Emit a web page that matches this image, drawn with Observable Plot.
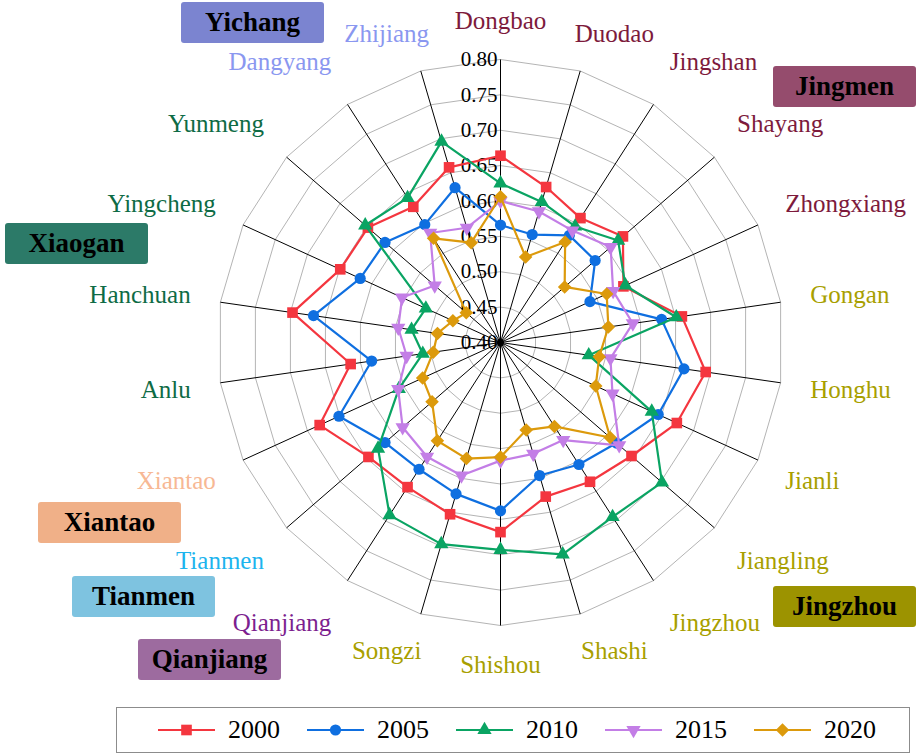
<!DOCTYPE html>
<html><head><meta charset="utf-8">
<script src="https://cdn.jsdelivr.net/npm/d3@7"></script>
<script src="https://cdn.jsdelivr.net/npm/@observablehq/plot@0.6"></script>
<style>
body{margin:0;background:#fff;}
#wrap{position:relative;width:920px;height:755px;font-family:"Liberation Serif","Times New Roman",serif;overflow:hidden;}
#chart{position:absolute;left:0;top:0;}
.grp{position:absolute;width:143px;height:41px;border-radius:3px;display:flex;align-items:center;justify-content:center;font-weight:bold;font-size:27px;color:#000;box-sizing:border-box;}
#legend{position:absolute;left:116px;top:707px;width:794px;height:46px;border:1.5px solid #8c8c8c;display:flex;align-items:center;justify-content:center;box-sizing:border-box;gap:27px;padding-left:8px;}
.item{display:flex;align-items:center;gap:13px;font-size:26px;line-height:1;}
.item svg{display:block;}
</style></head><body><div id="wrap"><div id="chart"></div></div>
<script>
// ---------------- data ----------------
const cities = ["Dongbao","Duodao","Jingshan","Shayang","Zhongxiang","Gongan","Honghu","Jianli","Jiangling","Jingzhou","Shashi","Shishou","Songzi","Qianjiang","Tianmen","Xiantao","Anlu","Hanchuan","Yingcheng","Yunmeng","Dangyang","Zhijiang"];
const cityGroup = ["Jingmen","Jingmen","Jingmen","Jingmen","Jingmen","Jingzhou","Jingzhou","Jingzhou","Jingzhou","Jingzhou","Jingzhou","Jingzhou","Jingzhou","Qianjiang","Tianmen","Xiantao","Xiaogan","Xiaogan","Xiaogan","Xiaogan","Yichang","Yichang"];
const years = ["2000","2005","2010","2015","2020"];
const v2000 = [0.664,0.629,0.609,0.629,0.591,0.659,0.693,0.674,0.645,0.634,0.627,0.668,0.653,0.643,0.647,0.681,0.614,0.697,0.649,0.648,0.628,0.658];
const v2005 = [0.566,0.559,0.580,0.577,0.539,0.630,0.662,0.645,0.617,0.605,0.596,0.638,0.623,0.613,0.616,0.651,0.584,0.667,0.618,0.616,0.598,0.628];
const v2010 = [0.625,0.607,0.595,0.620,0.594,0.651,0.526,0.635,0.702,0.693,0.712,0.693,0.697,0.690,0.629,0.558,0.511,0.527,0.516,0.653,0.643,0.696];
const v2015 = [0.600,0.593,0.588,0.606,0.575,0.589,0.557,0.574,0.622,0.564,0.564,0.567,0.596,0.592,0.583,0.559,0.534,0.546,0.553,0.523,0.584,0.569];
const v2020 = [0.606,0.526,0.569,0.520,0.565,0.554,0.541,0.548,0.605,0.541,0.529,0.562,0.571,0.565,0.528,0.521,0.496,0.490,0.474,0.464,0.575,0.547];
const tickValues = [0.40,0.45,0.50,0.55,0.60,0.65,0.70,0.75,0.80];
const groups = ["Yichang","Jingmen","Xiaogan","Xiantao","Tianmen","Qianjiang","Jingzhou"];

// ---------------- styles / layout ----------------
const seriesValues = [v2000,v2005,v2010,v2015,v2020];
const seriesColor = ["#f4363f","#0f6fe0","#0aa463","#c37ee6","#dc9a0c"];
const seriesSymbol = ["square","circle","triangle","triangle","square"];
const seriesRotate = [0,0,0,180,45];
const seriesR = [6.0,5.6,5.3,5.3,5.4];
const labelColor = {Jingmen:"#7d1a3c",Jingzhou:"#a89f00",Qianjiang:"#7d1f8f",Tianmen:"#1db4ee",Xiantao:"#f7b894",Xiaogan:"#0e6b45",Yichang:"#8a97f0"};
const boxFill = {Yichang:"#7b84d0",Jingmen:"#954c6d",Xiaogan:"#2c7a68",Xiantao:"#f0b088",Tianmen:"#7ec3e0",Qianjiang:"#9d6b9f",Jingzhou:"#9c9300"};
const boxPos = {Yichang:[181,2],Jingmen:[773,66],Xiaogan:[5,223],Xiantao:[38,502],Tianmen:[72,576],Qianjiang:[138,639],Jingzhou:[773,586]};

const PX = 707.5;           // pixels per unit of value
const cx = 500, cy = 342, W = 920, H = 700;
const base = 0.40;
const n = cities.length;
const ang = i => 2*Math.PI*i/n;

const series = [];
years.forEach((yr,k) => seriesValues[k].forEach((v,i) => series.push({year:yr, k, city:cities[i], i, v,
  x:(v-base)*Math.sin(ang(i)), y:(v-base)*Math.cos(ang(i))})));

const rings = [];
tickValues.slice(1).forEach(t => cities.forEach((c,i) => rings.push({t, x:(t-base)*Math.sin(ang(i)), y:(t-base)*Math.cos(ang(i))})));
const rmax = tickValues[tickValues.length-1] - base;
const spokes = cities.map((c,i) => ({x2:rmax*Math.sin(ang(i)), y2:rmax*Math.cos(ang(i))}));

// label positions (ellipse rule in value units)
const Rx = 313/PX, Ry = 333/PX, RyMid = 322/PX, Rmid = 404/PX;
const labels = cities.map((c,i) => {
  const s = Math.sin(ang(i)), co = Math.cos(ang(i));
  const anchor = Math.abs(s) < 0.3 ? "middle" : (s > 0 ? "start" : "end");
  const x = (anchor === "middle" ? Rmid*s : Rx*s);
  const y = (anchor === "middle" ? RyMid : Ry)*co;
  return {c, x, y, anchor, color: labelColor[cityGroup[i]]};
});

const marks = [
  Plot.line(rings, {x:"x", y:"y", z:"t", curve:"linear-closed", stroke:"#b4b4b4", strokeWidth:1}),
  Plot.link(spokes, {x1:() => 0, y1:() => 0, x2:"x2", y2:"y2", stroke:"#000", strokeWidth:1}),
  Plot.text(tickValues, {x:() => 0, y:d => d-base, text:d => d.toFixed(2), textAnchor:"end", dx:-3, fontSize:21, fill:"#000"}),
  Plot.dot([0], {x:() => 0, y:() => 0, r:3.5, fill:"#000"})
];
years.forEach((yr,k) => {
  const d = series.filter(s => s.k === k);
  marks.push(Plot.line(d, {x:"x", y:"y", curve:"linear-closed", stroke:seriesColor[k], strokeWidth:2.2}));
  marks.push(Plot.dot(d, {x:"x", y:"y", symbol:seriesSymbol[k], rotate:seriesRotate[k], r:seriesR[k], fill:seriesColor[k], stroke:"none"}));
});
["start","end","middle"].forEach(a => {
  marks.push(Plot.text(labels.filter(l => l.anchor === a), {x:"x", y:"y", text:"c", fill:"color", textAnchor:a, fontSize:25}));
});

const plot = Plot.plot({
  width: W, height: H, margin: 0,
  x: {domain: [-cx/PX, (W-cx)/PX], axis: null},
  y: {domain: [-(H-cy)/PX, cy/PX], axis: null},
  color: {type: "identity"},
  style: {fontFamily: '"Liberation Serif","Times New Roman",serif', background: "white", overflow: "visible"},
  marks
});
document.getElementById("chart").appendChild(plot);

// group boxes
const wrap = document.getElementById("wrap");
groups.forEach(g => {
  const d = document.createElement("div");
  d.className = "grp";
  d.style.left = boxPos[g][0] + "px";
  d.style.top = boxPos[g][1] + "px";
  d.style.background = boxFill[g];
  d.textContent = g;
  wrap.appendChild(d);
});

// legend
const leg = document.createElement("div");
leg.id = "legend";
years.forEach((yr,k) => {
  const it = document.createElement("div");
  it.className = "item";
  const svg = d3.create("svg").attr("width",57).attr("height",22);
  svg.append("line").attr("x1",0).attr("x2",57).attr("y1",11).attr("y2",11).attr("stroke",seriesColor[k]).attr("stroke-width",2.2);
  const sym = {square:d3.symbolSquare, circle:d3.symbolCircle, triangle:d3.symbolTriangle}[seriesSymbol[k]];
  svg.append("path").attr("d", d3.symbol(sym, seriesR[k]*seriesR[k]*Math.PI)())
    .attr("transform", `translate(28.5,11) rotate(${seriesRotate[k]})`).attr("fill", seriesColor[k]);
  it.appendChild(svg.node());
  const t = document.createElement("span");
  t.textContent = yr;
  it.appendChild(t);
  leg.appendChild(it);
});
wrap.appendChild(leg);
</script></body></html>
